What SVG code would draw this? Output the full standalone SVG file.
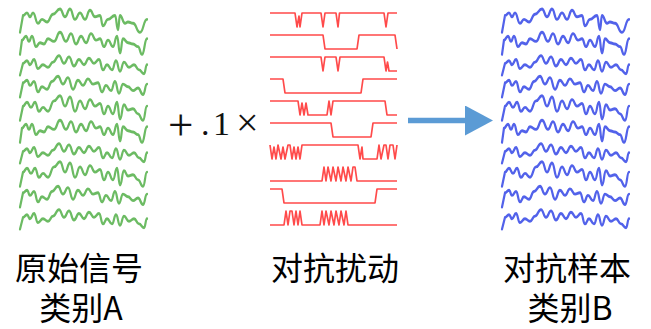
<svg xmlns="http://www.w3.org/2000/svg" xmlns:xlink="http://www.w3.org/1999/xlink" width="651" height="329" viewBox="0 0 651 329">
<style>
  .wave { fill: none; stroke-width: 2.2; stroke-linejoin: round; stroke-linecap: round; }
  .wave path { vector-effect: non-scaling-stroke; }
  .green { stroke: #6cbb63; }
  .blue { stroke: #5262ea; }
  .sq { fill: none; stroke: #ff4a4a; stroke-width: 1.7; stroke-linejoin: round; }
  .cjk { font-family: "Noto Sans CJK SC", "Noto Sans", sans-serif; font-size: 32px; fill: #000; text-anchor: middle; }
  .op { font-family: "Liberation Serif", "Times New Roman", serif; fill: #111; }
</style>
<defs>
  <path id="wA" d="M0,8 L3,-5 C5,-5 5,-7 7,-7 C8.5,-7 8.5,-4 10,-4 C11.5,-4 11.5,-7 13,-7 C15.5,-7 15.5,1 18,1 C20,1 20,-2 22,-2 C24.5,-2 24.5,0 27,0 C30,0 30,-6 33,-6 C36.5,-6 36.5,-10 40,-10 C42.5,-10 42.5,-4 45,-4 C47.5,-4 47.5,-10 50,-10 C52.5,-10 52.5,-2 55,-2 C57.5,-2 57.5,-7 60,-7 C62.5,-7 62.5,-2 65,-2 C67.5,-2 67.5,-9 70,-9 C72.5,-9 72.5,-4 75,-4 C77.5,-4 77.5,-5 80,-5 C81.5,-5 81.5,3 83,3 C85.5,3 85.5,-2 88,-2 C91.5,-2 91.5,-5 95,-5 C96.5,-5 96.5,6 98,6 C99,6 99,-5 100,-5 C102.5,-5 102.5,1 105,1 C106.5,1 106.5,0 108,0 C110.5,0 110.5,1 113,1 C116.5,1 116.5,8 120,8 C123.5,8 123.5,-2 127,-2"/>
  <path id="wB" d="M0,8 L2,-3 C4,-3 4,-6 6,-6 C7.5,-6 7.5,-2 9,-2 C10.5,-2 10.5,-6 12,-6 C14,-6 14,2 16,2 C18,2 18,-1 20,-1 C22,-1 22,0 24,0 C26,0 26,-4 28,-4 C31,-4 31,-2 34,-2 C37,-2 37,-9 40,-9 C43,-9 43,-2 46,-2 C48.5,-2 48.5,-8 51,-8 C53.5,-8 53.5,0 56,0 C58.5,0 58.5,-6 61,-6 C63.5,-6 63.5,-1 66,-1 C68.5,-1 68.5,-8 71,-8 C73.5,-8 73.5,-3 76,-3 C78,-3 78,-4 80,-4 C82,-4 82,2 84,2 C86,2 86,-3 88,-3 C90.5,-3 90.5,2 93,2 C95,2 95,-6 97,-6 C98.5,-6 98.5,7 100,7 C101.5,7 101.5,-4 103,-4 C105.5,-4 105.5,-1 108,-1 C110.5,-1 110.5,0 113,0 C115.5,0 115.5,2 118,2 C120,2 120,8 122,8 C124.5,8 124.5,-4 127,-4"/>
  <path id="wC" d="M0,7 L3,-2 C5,-2 5,-4 7,-4 C8.5,-4 8.5,-1 10,-1 C12,-1 12,-5 14,-5 C16,-5 16,2 18,2 C20.5,2 20.5,-1 23,-1 C25.5,-1 25.5,1 28,1 C30.5,1 30.5,-3 33,-3 C36,-3 36,-8 39,-8 C41.5,-8 41.5,-2 44,-2 C46.5,-2 46.5,-7 49,-7 C51.5,-7 51.5,0 54,0 C56.5,0 56.5,-5 59,-5 C61.5,-5 61.5,-1 64,-1 C66.5,-1 66.5,-6 69,-6 C71.5,-6 71.5,-2 74,-2 C76.5,-2 76.5,-5 79,-5 C81,-5 81,3 83,3 C85,3 85,-1 87,-1 C89.5,-1 89.5,3 92,3 C94,3 94,-4 96,-4 C98,-4 98,4 100,4 C102,4 102,-3 104,-3 C106.5,-3 106.5,1 109,1 C111.5,1 111.5,-1 114,-1 C116.5,-1 116.5,3 119,3 C121.5,3 121.5,6 124,6 C125.5,6 125.5,-1 127,-1"/>
  <path id="wD" d="M0,7 L3,-4 C5,-4 5,-6 7,-6 C8.5,-6 8.5,-2 10,-2 C12,-2 12,-5 14,-5 C16,-5 16,3 18,3 C20,3 20,-1 22,-1 C24.5,-1 24.5,1 27,1 C29.5,1 29.5,-5 32,-5 C35,-5 35,-9 38,-9 C40.5,-9 40.5,-3 43,-3 C45.5,-3 45.5,-8 48,-8 C50.5,-8 50.5,1 53,1 C55.5,1 55.5,-6 58,-6 C60.5,-6 60.5,-2 63,-2 C65.5,-2 65.5,-7 68,-7 C70.5,-7 70.5,-3 73,-3 C75.5,-3 75.5,-4 78,-4 C80,-4 80,3 82,3 C84,3 84,-2 86,-2 C88.5,-2 88.5,2 91,2 C93,2 93,-5 95,-5 C97,-5 97,4 99,4 C101,4 101,-3 103,-3 C105.5,-3 105.5,-1 108,-1 C110.5,-1 110.5,2 113,2 C115.5,2 115.5,0 118,0 C120.5,0 120.5,5 123,5 C125,5 125,-3 127,-3"/>
  <path id="wE" d="M0,8 L3,-3 C5,-3 5,-6 7,-6 C9,-6 9,-2 11,-2 C13,-2 13,-6 15,-6 C17,-6 17,1 19,1 C21,1 21,-2 23,-2 C25.5,-2 25.5,1 28,1 C31,1 31,-7 34,-7 C37,-7 37,-11 40,-11 C42.5,-11 42.5,-3 45,-3 C47.5,-3 47.5,-10 50,-10 C52.5,-10 52.5,1 55,1 C57.5,1 57.5,-7 60,-7 C62.5,-7 62.5,-1 65,-1 C67.5,-1 67.5,-8 70,-8 C72.5,-8 72.5,-3 75,-3 C77.5,-3 77.5,-5 80,-5 C82,-5 82,3 84,3 C86,3 86,-3 88,-3 C90.5,-3 90.5,3 93,3 C95,3 95,-6 97,-6 C98.5,-6 98.5,7 100,7 C102,7 102,-4 104,-4 C106,-4 106,0 108,0 C110.5,0 110.5,-1 113,-1 C115.5,-1 115.5,3 118,3 C120.5,3 120.5,8 123,8 C125,8 125,-3 127,-3"/>
  <marker id="arrowhead" markerWidth="28" markerHeight="30" refX="0" refY="15" orient="auto" markerUnits="userSpaceOnUse">
    <path d="M0,0 L28,15 L0,30 Z" fill="#5b9bd5"/>
  </marker>
</defs>

<g id="signal-A">
  <g class="wave green">
    <use xlink:href="#wA" transform="translate(20,22) scale(1,1.3)"/>
    <use xlink:href="#wB" transform="translate(20,44) scale(1,1.3)"/>
    <use xlink:href="#wC" transform="translate(20,66) scale(1,1.3)"/>
    <use xlink:href="#wD" transform="translate(20,88) scale(1,1.3)"/>
    <use xlink:href="#wE" transform="translate(20,110) scale(1,1.3)"/>
    <use xlink:href="#wB" transform="translate(20,132) scale(1,1.3)"/>
    <use xlink:href="#wC" transform="translate(20,154) scale(1,1.3)"/>
    <use xlink:href="#wE" transform="translate(20,176) scale(1,1.3)"/>
    <use xlink:href="#wD" transform="translate(20,198) scale(1,1.3)"/>
    <use xlink:href="#wC" transform="translate(20,220) scale(1,1.3)"/>
  </g>
  <text class="cjk" x="79"><tspan x="79" y="280">原始信号</tspan><tspan x="81" y="320">类别A</tspan></text>
</g>

<g id="scale-op">
  <text class="op" font-size="45" x="168" y="140">+</text>
  <text class="op" font-size="34" x="201" y="135">.</text>
  <text class="op" font-size="34" x="213" y="135">1</text>
  <text class="op" font-size="40" x="236" y="136">×</text>
</g>

<g id="perturbation">
  <g class="sq">
    <path d="M270,13 H295 L297,27 L299,16 L300,27 L302,13 H321 L323,27 L325,13 H336 L338,27 L339.5,13 H384 L386,27 L388,13 H397"/>
    <path d="M270,35 H323 L325,49 H357 L359,35 H395 L397,49"/>
    <path d="M270,57 H321 L323,71 L325,57 H336 L338,71 L340,57 H384 L386,71 L387.5,62 L389,71 H397"/>
    <path d="M270,79 H283 L285,93 H361 L363,79 H397"/>
    <path d="M270,101 H298 L300,115 L302,103 L304,115 L306,103 L308,115 H327 L329,101 L331,115 L333,101 H385 L387,115 H397"/>
    <path d="M270,123 H331 L333,137 H371 L373,123 H397"/>
    <path d="M270,145 L272,159 L274,147 L276,159 L278,145 L281,159 L283,147 L285,159 L288,145 H290 L292,159 L294,147 L296,159 L298,147 L300,159 L302,145 H358 L360,159 L362,147 L363,159 H377 L379,145 L381,159 L384,145 H386 L388,159 L390,145 H393 L395,159 L397,145"/>
    <path d="M270,181 H322 L324,167 L326,181 L328,167 L331,181 L333,167 L336,181 L338,167 L341,181 L343,167 L346,181 L348,167 L351,181 L353,167 H355 L357,181 H397"/>
    <path d="M270,189 H282 L284,203 H375 L377,189 H397"/>
    <path d="M270,225 H284 L286,211 L288,225 L290,211 H292 L294,225 L296,211 L298,225 L300,211 L302,225 H320 L322,211 L324,225 L326,211 L329,225 L331,211 L334,225 L336,211 L339,225 L341,211 L344,225 L346,211 L348,225 H397"/>
  </g>
  <text class="cjk" x="335" y="280">对抗扰动</text>
</g>

<g id="sample-B">
  <g class="wave blue">
    <use xlink:href="#wA" transform="translate(502,22) scale(1,1.3)"/>
    <use xlink:href="#wB" transform="translate(502,44) scale(1,1.3)"/>
    <use xlink:href="#wC" transform="translate(502,66) scale(1,1.3)"/>
    <use xlink:href="#wD" transform="translate(502,88) scale(1,1.3)"/>
    <use xlink:href="#wE" transform="translate(502,110) scale(1,1.3)"/>
    <use xlink:href="#wB" transform="translate(502,132) scale(1,1.3)"/>
    <use xlink:href="#wC" transform="translate(502,154) scale(1,1.3)"/>
    <use xlink:href="#wE" transform="translate(502,176) scale(1,1.3)"/>
    <use xlink:href="#wD" transform="translate(502,198) scale(1,1.3)"/>
    <use xlink:href="#wC" transform="translate(502,220) scale(1,1.3)"/>
  </g>
  <text class="cjk" x="567"><tspan x="567" y="280">对抗样本</tspan><tspan x="570" y="320">类别B</tspan></text>
</g>

<g id="connectors">
  <line x1="408" y1="120.5" x2="465" y2="120.5" stroke="#5b9bd5" stroke-width="5.5" marker-end="url(#arrowhead)"/>
</g>
</svg>
